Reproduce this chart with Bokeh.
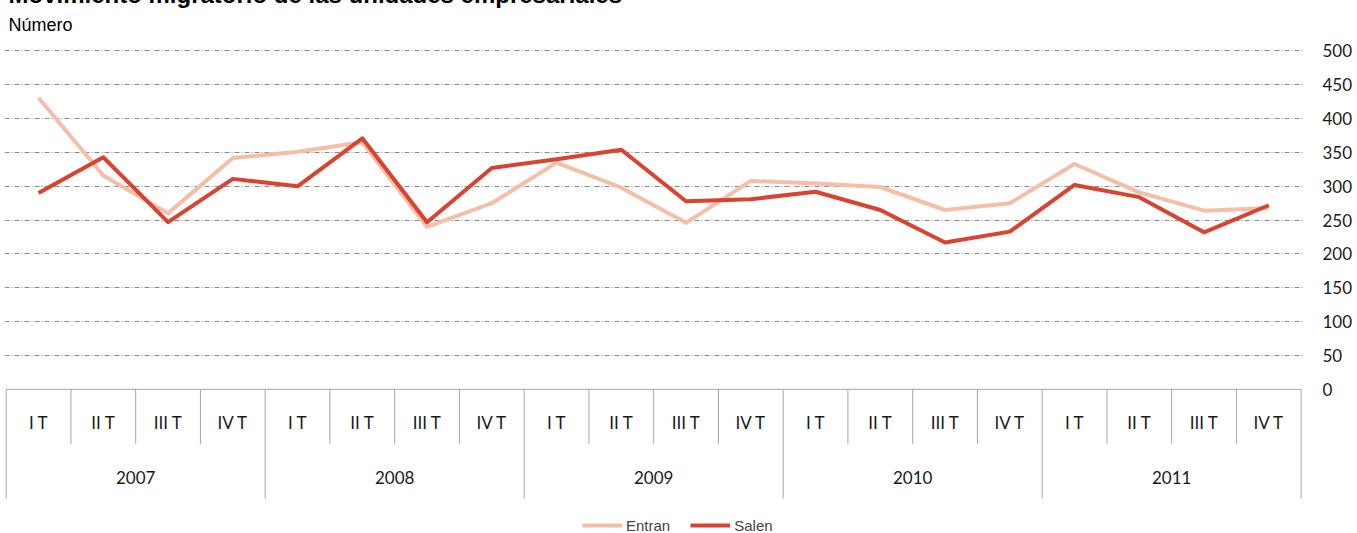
from bokeh.plotting import figure
from bokeh.models import (ColumnDataSource, FixedTicker, Range1d, Title, Legend,
                          LegendItem)
from bokeh.embed import file_html
from bokeh.resources import INLINE
from bokeh.core.properties import value

# ---------------- data ----------------
years = ["2007", "2008", "2009", "2010", "2011"]
quarters = ["I T", "II T", "III T", "IV T"]
entran = [431, 316, 260, 342, 351, 365, 240, 275, 335, 298,
          246, 308, 304, 299, 265, 275, 333, 291, 264, 268]
salen = [290, 343, 247, 311, 300, 371, 247, 327, 340, 354,
         278, 281, 292, 265, 217, 233, 302, 284, 232, 272]
y_ticks = [0, 50, 100, 150, 200, 250, 300, 350, 400, 450, 500]

# ---------------- derived positions ----------------
nq = len(quarters)
n = len(years) * nq
xc = [i + 0.5 for i in range(n)]
q_labels = [quarters[i % nq] for i in range(n)]
y_centers = [k * nq + nq / 2 for k in range(len(years))]

Q_ROW_BOTTOM = -80.5
Y_ROW_BOTTOM = -161.4
Q_LABEL_Y = -48.6
Y_LABEL_Y = -129.9

p = figure(width=1357, height=560,
           x_range=Range1d(-0.026, 20.036), y_range=Range1d(-213.1, 515.5),
           output_backend="svg", toolbar_location=None,
           x_axis_location=None, y_axis_location="right",
           min_border_left=4, min_border_right=54, min_border_top=67,
           min_border_bottom=0, outline_line_color=None,
           styles={"margin-top": "-27px", "margin-left": "0px"})

# titles
p.title.text = "Movimiento migratorio de las unidades empresariales"
p.title.text_font = "Liberation Sans"
p.title.text_font_size = "24px"
p.title.text_font_style = "bold"
p.title.text_color = "#000000"
p.title.align = "left"
p.title.offset = 4
p.title.standoff = 0
sub = Title(text="Número", text_font="Liberation Sans", text_font_size="18px",
            text_font_style="normal", text_color="#000000", align="left",
            offset=4, standoff=11)
p.add_layout(sub, "above")

# y axis / grid
p.yaxis.ticker = FixedTicker(ticks=y_ticks)
p.yaxis.axis_line_color = None
p.yaxis.major_tick_line_color = None
p.yaxis.minor_tick_line_color = None
p.yaxis.major_label_standoff = 13
p.yaxis.major_label_text_font = "Lato"
p.yaxis.major_label_text_font_size = "17px"
p.yaxis.major_label_text_color = "#1a1a1a"
p.xgrid.visible = False
p.ygrid.ticker = FixedTicker(ticks=y_ticks[1:])
p.ygrid.grid_line_color = "#8c8c8c"
p.ygrid.grid_line_dash = "5 2 1 2"
p.ygrid.grid_line_width = 1

# category table below the zero line
bx = list(range(n + 1))
bottoms = [Y_ROW_BOTTOM if (b % nq == 0) else Q_ROW_BOTTOM for b in bx]
p.segment(x0=bx, y0=[0] * len(bx), x1=bx, y1=bottoms,
          line_color="#a6a6a6", line_width=1)
p.segment(x0=[0], y0=[0], x1=[n], y1=[0], line_color="#a6a6a6", line_width=1)

p.text(x=xc, y=[Q_LABEL_Y] * n, text=q_labels, text_align="center",
       text_baseline="middle", text_font=value("Lato"),
       text_font_size="17px", text_color="#1a1a1a")
p.text(x=y_centers, y=[Y_LABEL_Y] * len(years), text=years,
       text_align="center", text_baseline="middle", text_font=value("Lato"),
       text_font_size="17px", text_color="#1a1a1a")

# series
src = ColumnDataSource(dict(x=xc, entran=entran, salen=salen))
r1 = p.line("x", "entran", source=src, line_color="#F4BFA6", line_width=4,
            line_join="round")
r2 = p.line("x", "salen", source=src, line_color="#D9432F", line_width=4,
            line_join="round")

legend = Legend(items=[LegendItem(label="Entran", renderers=[r1]),
                       LegendItem(label="Salen", renderers=[r2])],
                orientation="horizontal", location=(578, -2),
                label_text_font="Liberation Sans", label_text_font_size="15px",
                glyph_width=40, label_standoff=4, spacing=20, padding=0,
                margin=0, border_line_color=None, background_fill_alpha=0)
p.add_layout(legend, "center")

open("out.html", "w").write(file_html(p, INLINE))
